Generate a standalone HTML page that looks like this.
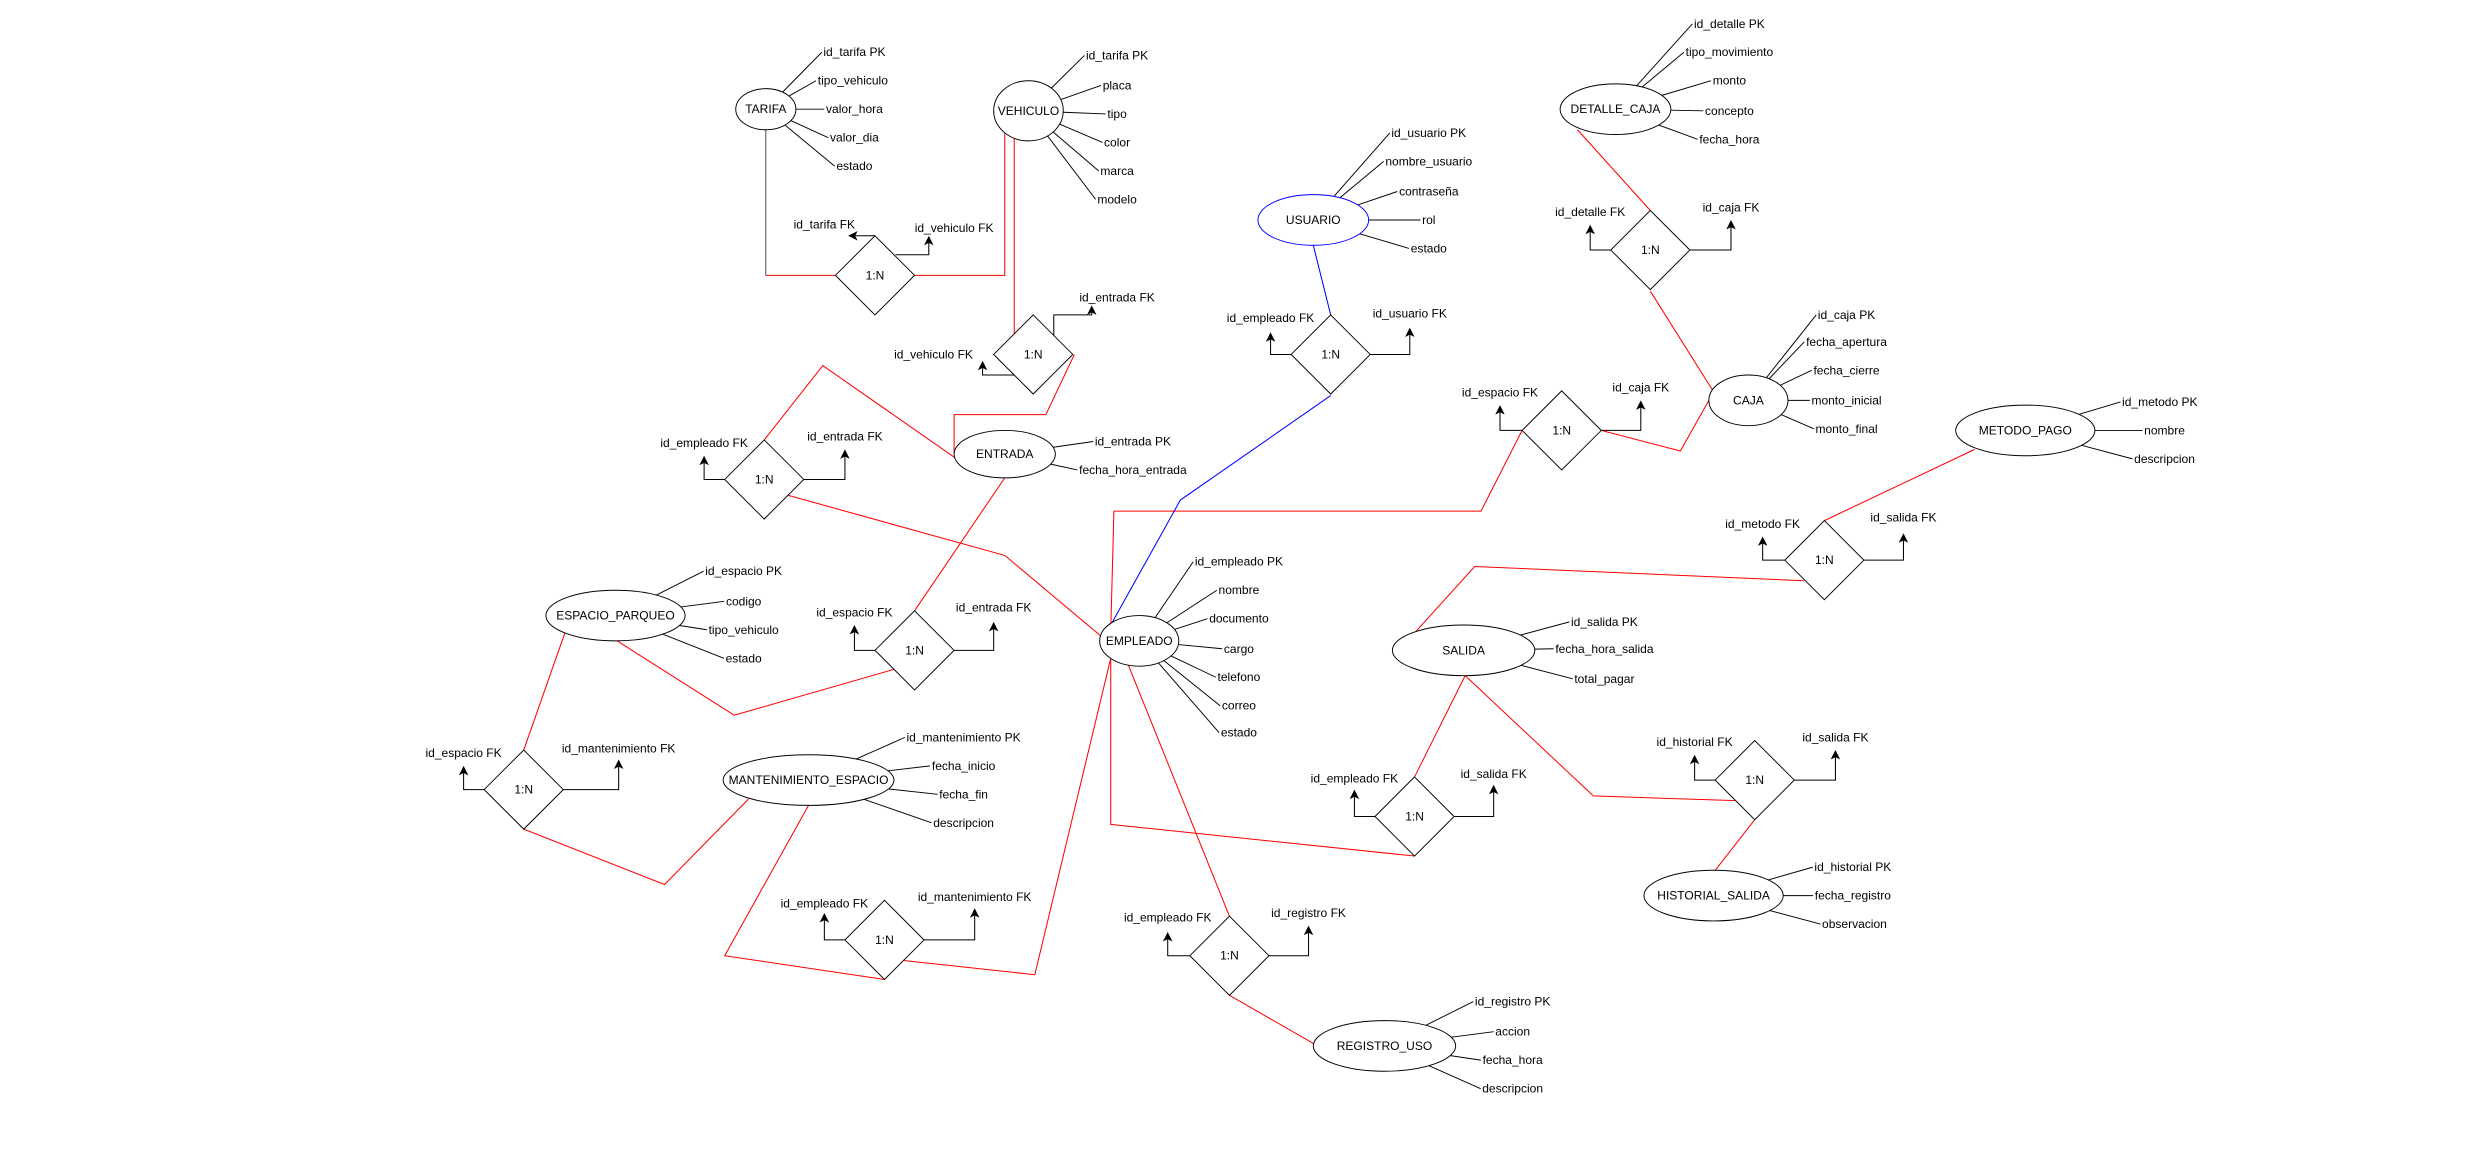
<!DOCTYPE html>
<html><head><meta charset="utf-8"><style>
html,body{margin:0;padding:0;background:#fff;}
svg{display:block;}
text{font-family:"Liberation Sans",Arial,sans-serif;font-size:7.6px;fill:#000;}
</style></head><body>
<svg id="s" width="2481" height="1170" viewBox="0 0 1568 739.4" xmlns="http://www.w3.org/2000/svg">
<defs><marker id="ah" markerWidth="6" markerHeight="6" refX="5" refY="3" orient="auto" markerUnits="userSpaceOnUse"><path d="M0,0 L6,3 L0,6 L1.5,3 z" fill="#000"/></marker></defs>
<g id="g"></g>
</svg>
<script>
var g=document.getElementById('g'),NS='http://www.w3.org/2000/svg';
function el(t,a,txt){var e=document.createElementNS(NS,t);for(var k in a)e.setAttribute(k,a[k]);if(txt!=null)e.textContent=txt;g.appendChild(e);return e;}
function pl(pts,c,w,m){var a={points:pts.map(p=>p.join(',')).join(' '),fill:'none',stroke:c,'stroke-width':w||0.65};if(m)a['marker-end']='url(#ah)';return el('polyline',a);}
function tx(x,y,s,anchor,fs){var a={x:x,y:y,'text-anchor':anchor||'middle','dominant-baseline':'central'};if(fs)a['font-size']=fs;return el('text',a,s);}
var R='#ff0000',B='#0000ff';
var reds=[
[[484,174],[528,174]],
[[578,174],[635,174],[635,84]],
[[641,86],[641,211]],
[[679,224],[661,262],[603,262],[603,287]],
[[483,278],[520,231],[606,291]],
[[498,313],[635,351],[697,403]],
[[635,302],[578,386]],
[[565,423],[464,452],[390,405]],
[[357,400],[331,474]],
[[331,524],[420,559],[473,505]],
[[511,509],[458,604],[559,619]],
[[571,607],[654,616],[702,416]],
[[702,416],[702,521],[894,541]],
[[894,491],[926,427]],
[[894,400],[932,358],[1140,367]],
[[926,427],[1007,503],[1097,506]],
[[1109,518],[1084,550]],
[[1153,329],[1248,284]],
[[713,420],[777,579]],
[[777,629],[831,660]],
[[702,398],[704,323],[936,323],[962,272]],
[[1012,272],[1062,285],[1080,253]],
[[1082,246],[1043,184]],
[[1043,133],[997,82]]
];
pl([[484,82],[484,174]],'#333',0.55);
reds.forEach(p=>pl(p,R,0.65));
pl([[702,395],[746,316],[841,250]],B,0.65);
pl([[841,199],[830,155]],B,0.65);
var ents=[
['TARIFA',484,69,19,13,'#000',[['id_tarifa PK',540,33],['tipo_vehiculo',539,51],['valor_hora',540,69],['valor_dia',540,87],['estado',540,105]]],
['VEHICULO',650,70,22,19,'#000',[['id_tarifa PK',706,35],['placa',706,54],['tipo',706,72],['color',706,90],['marca',706,108],['modelo',706,126]]],
['USUARIO',830,139,35,16,B,[['id_usuario PK',903,84],['nombre_usuario',903,102],['contraseña',903,121],['rol',903,139],['estado',903,157]]],
['DETALLE_CAJA',1021,69,35,16,'#000',[['id_detalle PK',1093,15],['tipo_movimiento',1093,33],['monto',1093,51],['concepto',1093,70],['fecha_hora',1093,88]]],
['CAJA',1105,253,25,16,'#000',[['id_caja PK',1167,199],['fecha_apertura',1167,216],['fecha_cierre',1167,234],['monto_inicial',1167,253],['monto_final',1167,271]]],
['METODO_PAGO',1280,272,44,16,'#000',[['id_metodo PK',1365,254],['nombre',1368,272],['descripcion',1368,290]]],
['ENTRADA',635,287,32,15,'#000',[['id_entrada PK',716,279],['fecha_hora_entrada',716,297]]],
['ESPACIO_PARQUEO',389,389,44,16,'#000',[['id_espacio PK',470,361],['codigo',470,380],['tipo_vehiculo',470,398],['estado',470,416]]],
['EMPLEADO',720,405,25,16,'#000',[['id_empleado PK',783,355],['nombre',783,373],['documento',783,391],['cargo',783,410],['telefono',783,428],['correo',783,446],['estado',783,463]]],
['SALIDA',925,411,45,16,'#000',[['id_salida PK',1014,393],['fecha_hora_salida',1014,410],['total_pagar',1014,429]]],
['MANTENIMIENTO_ESPACIO',511,493,54,16,'#000',[['id_mantenimiento PK',609,466],['fecha_inicio',609,484],['fecha_fin',609,502],['descripcion',609,520]]],
['HISTORIAL_SALIDA',1083,566,44,16,'#000',[['id_historial PK',1171,548],['fecha_registro',1171,566],['observacion',1172,584]]],
['REGISTRO_USO',875,661,45,16,'#000',[['id_registro PK',956,633],['accion',956,652],['fecha_hora',956,670],['descripcion',956,688]]]
];
ents.forEach(function(e){
  var cx=e[1],cy=e[2],rx=e[3],ry=e[4];
  e[6].forEach(function(a){
    var t=tx(a[1],a[2],a[0]);var w=t.getBBox().width;var lx=a[1]-w/2-1,ly=a[2];
    var dx=lx-cx,dy=ly-cy;var k=1/Math.sqrt(dx*dx/(rx*rx)+dy*dy/(ry*ry));
    el('line',{x1:cx+dx*k,y1:cy+dy*k,x2:lx,y2:ly,stroke:'#000','stroke-width':0.6});
  });
  el('ellipse',{cx:cx,cy:cy,rx:rx,ry:ry,fill:'#fff',stroke:e[5],'stroke-width':0.6});
  tx(cx,cy,e[0],null,e[0].length>16?7.3:null);
});
function dia(cx,cy){el('polygon',{points:[cx,cy-25,cx+25,cy,cx,cy+25,cx-25,cy].join(','),fill:'#fff',stroke:'#000','stroke-width':0.6});tx(cx,cy,'1:N');}
var std=[
[483,303,'id_empleado FK',445,289,280,'id_entrada FK',534,285,276],
[578,411,'id_espacio FK',540,396,387,'id_entrada FK',628,394,384],
[331,499,'id_espacio FK',293,485,476,'id_mantenimiento FK',391,481,473],
[559,594,'id_empleado FK',521,578,571,'id_mantenimiento FK',616,575,567],
[841,224,'id_empleado FK',803,211,201,'id_usuario FK',891,208,198],
[987,272,'id_espacio FK',948,257,248,'id_caja FK',1037,254,245],
[1043,158,'id_detalle FK',1005,143,134,'id_caja FK',1094,140,131],
[894,516,'id_empleado FK',856,500,492,'id_salida FK',944,497,489],
[1153,354,'id_metodo FK',1114,340,331,'id_salida FK',1203,338,327],
[1109,493,'id_historial FK',1071,478,469,'id_salida FK',1160,475,466],
[777,604,'id_empleado FK',738,590,580,'id_registro FK',827,586,577]
];
std.forEach(function(d){
  var cx=d[0],cy=d[1];
  pl([[cx-25,cy],[d[3],cy],[d[3],d[4]]],'#000',0.65,true);
  pl([[cx+25,cy],[d[7],cy],[d[7],d[8]]],'#000',0.65,true);
  dia(cx,cy);
  tx(d[3],d[5],d[2]);tx(d[7],d[9],d[6]);
});
pl([[553,149],[537,149]],'#000',0.65,true);
pl([[566,161],[587,161],[587,150]],'#000',0.65,true);
dia(553,174);tx(521,142,'id_tarifa FK');tx(603,144,'id_vehiculo FK');
pl([[641,237],[621,237],[621,229]],'#000',0.65,true);
pl([[666,214],[666,199],[690,199],[690,194]],'#000',0.65,true);
dia(653,224);tx(706,188,'id_entrada FK');tx(590,224,'id_vehiculo FK');
</script>
</body></html>
